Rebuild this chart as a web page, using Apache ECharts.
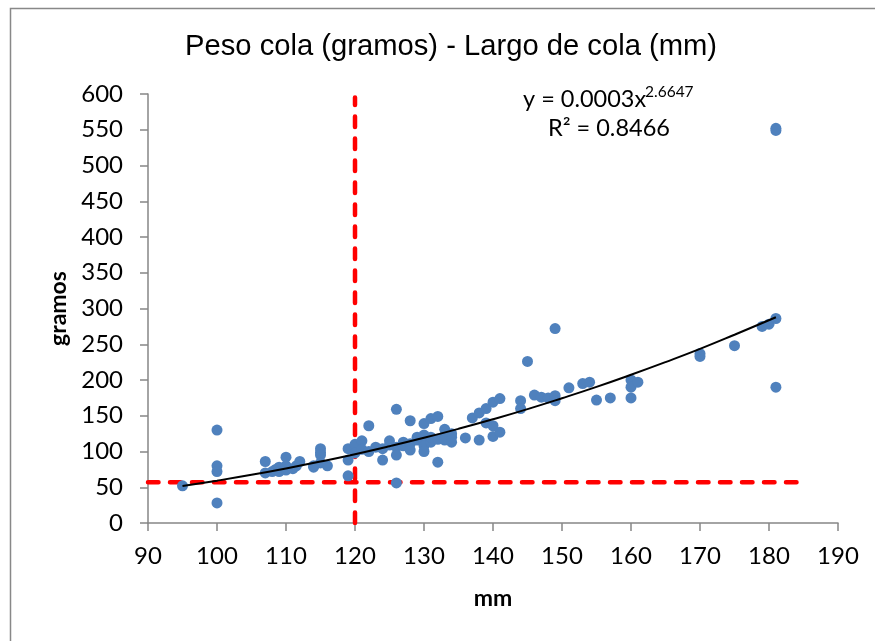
<!DOCTYPE html>
<html>
<head>
<meta charset="utf-8">
<script src="https://cdn.jsdelivr.net/npm/echarts@6/dist/echarts.min.js"></script>
<style>html,body{margin:0;padding:0;background:#fff}#c{width:875px;height:641px}</style>
</head>
<body>
<div id="c"></div>
<script>
// Observed points: [largo de cola (mm), peso cola (gramos)]
var points = [
  [95,52],[100,130],[100,80],[100,72],[100,28],
  [107,86],[107,70],[108,72],[108.5,75],[109,78],[109,72],[110,80],[110,92],[110,74],
  [111,76],[111.5,80],[112,86],[114,80],[114,78],[115,104],[115,99],[115,95],[115,84],[116,80],
  [119,104],[119,88],[119,66],[120,110],[120,98],[121,115],[121,103],[122,136],[122,100],
  [123,106],[124,88],[124,104],[125,115],[125,109],[126,159],[126,106],[126,95],[126,56],
  [127,113],[127,108],[128,143],[128,111],[128,102],[129,120],[129,116],
  [130,139],[130,123],[130,118],[130,112],[130,108],[130,100],
  [131,146],[131,113],[131,120],[132,149],[132,85],[132,117],
  [133,131],[133,122],[133,116],[134,120],[134,113],[134,125],
  [136,119],[137,147],[138,154],[138,116],[139,160],[139,140],
  [140,169],[140,136],[140,121],[141,174],[141,127],
  [144,171],[144,160],[145,226],[146,179],[147,176],[148,175],[149,178],[149,171],[149,272],
  [151,189],[153,195],[154,197],[155,172],[157,175],
  [160,200],[160,190],[161,197],[160,175],
  [170,237],[170,233],[175,248],[179,275],[180,278],[181,286],[181,190],[181,552],[181,549]
];
// Power trendline
var trendX = [95,100,105,110,115,120,125,130,135,140,145,150,155,160,165,170,175,181];
var trendY = [51.6,59.2,67.4,76.3,85.9,96.2,107.3,119.1,131.7,145.1,159.3,174.5,190.4,207.3,225.0,243.5,263.3,287.8];
// Red dashed reference lines
var refH = [[90,57],[185,57]];
var refV = [[120,0],[120,595]];
var titleText = 'Peso cola (gramos) - Largo de cola (mm)';
var eqLine1 = 'y = 0.0003x';
var eqExp = '2.6647';
var eqLine2 = 'R² = 0.8466';
var xName = 'mm', yName = 'gramos';

var trend = trendX.map(function(x,i){return [x, trendY[i]];});
var lab = {fontFamily:'Lato', fontSize:24, color:'#000'};
var chart = echarts.init(document.getElementById('c'), null, {renderer:'canvas'});
chart.setOption({
  animation:false,
  backgroundColor:'#fff',
  title:{text:titleText, left:180, top:27, textStyle:{fontFamily:'Liberation Sans', fontSize:29.2, fontWeight:'normal', color:'#000'}},
  grid:{left:148, right:37, top:94, bottom:118},
  xAxis:{type:'value', min:90, max:190, interval:10, name:xName, nameLocation:'middle', nameGap:64,
    nameTextStyle:{fontFamily:'Lato', fontSize:23, fontWeight:'bold', color:'#000'},
    axisLine:{onZero:false, lineStyle:{color:'#868686', width:1.5}},
    axisTick:{show:true, length:8, lineStyle:{color:'#868686', width:1.5}},
    axisLabel:Object.assign({margin:21}, lab), splitLine:{show:false}},
  yAxis:{type:'value', min:0, max:600, interval:50, name:yName, nameLocation:'middle', nameGap:76,
    nameTextStyle:{fontFamily:'Lato', fontSize:23, fontWeight:'bold', color:'#000'},
    axisLine:{show:true, lineStyle:{color:'#868686', width:1.5}},
    axisTick:{show:true, length:8, lineStyle:{color:'#868686', width:1.5}},
    axisLabel:Object.assign({margin:25}, lab), splitLine:{show:false}},
  graphic:[
    {type:'rect', left:8, top:6, z:-10, silent:true, shape:{width:900, height:700}, style:{fill:null, stroke:'#888', lineWidth:1.5}},
    {type:'text', left:523, top:87, style:{text:eqLine1, font:'23.5px Lato', fill:'#000'}},
    {type:'text', left:645, top:84, style:{text:eqExp, font:'15.5px Lato', fill:'#000'}},
    {type:'text', left:548, top:116, style:{text:eqLine2, font:'23.5px Lato', fill:'#000'}}
  ],
  series:[
    {type:'line', data:refH, symbol:'none', z:1, lineStyle:{color:'#ff0000', width:4.5, type:[10.5,11.5], cap:'round'}},
    {type:'line', data:refV, symbol:'none', z:1, lineStyle:{color:'#ff0000', width:4.5, type:[10.5,11.5], cap:'round'}},
    {type:'scatter', data:points, symbol:'circle', symbolSize:11, z:2, itemStyle:{color:'#4F81BD', opacity:1}},
    {type:'line', data:trend, smooth:true, symbol:'none', z:3, lineStyle:{color:'#000', width:2}}
  ]
});
</script>
</body>
</html>
